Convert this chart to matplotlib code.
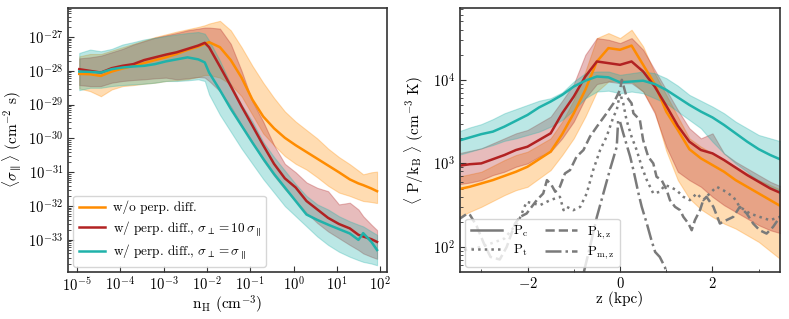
import numpy as np
import matplotlib
matplotlib.use("Agg")
import matplotlib.pyplot as plt
from matplotlib.ticker import MultipleLocator, NullLocator, LogLocator

plt.rcParams['mathtext.fontset'] = 'cm'
plt.rcParams['font.family'] = ['cmr10', 'DejaVu Serif']
plt.rcParams['axes.formatter.use_mathtext'] = True
plt.rcParams['axes.unicode_minus'] = True

# ---------------- left panel data (log10 values) ----------------
log_nH = [-4.95, -4.7, -4.45, -4.2, -3.95, -3.7, -3.45, -3.2, -2.95, -2.7, -2.45, -2.2, -2.05, -1.95,
          -1.7, -1.45, -1.2, -0.95, -0.7, -0.45, -0.2, 0.05, 0.3, 0.55, 0.8, 1.05, 1.3, 1.5, 1.61, 1.8, 1.93]

nodiff_mid = [-28.09, -28.1, -28.15, -28.02, -27.93, -27.85, -27.77, -27.68, -27.6, -27.5, -27.38, -27.28, -27.2, -27.15,
              -27.3, -27.68, -28.2, -28.85, -29.35, -29.7, -29.98, -30.2, -30.4, -30.6, -30.8, -31.0, -31.21, -31.33, -31.38, -31.48, -31.56]
nodiff_hi = [-27.57, -27.5, -27.5, -27.4, -27.3, -27.2, -27.1, -27.0, -26.92, -26.84, -26.77, -26.7, -26.65, -26.6,
             -26.52, -26.8, -27.3, -27.85, -28.35, -28.8, -29.2, -29.5, -29.75, -30.0, -30.3, -30.55, -30.76, -30.95, -31.06, -31.0, -30.98]
nodiff_lo = [-28.52, -28.6, -28.75, -28.55, -28.45, -28.42, -28.38, -28.35, -28.3, -28.28, -28.25, -28.18, -28.12, -28.12,
             -28.2, -28.4, -28.75, -29.3, -29.85, -30.2, -30.52, -30.75, -30.92, -31.15, -31.4, -31.6, -31.7, -31.8, -31.85, -31.88, -31.91]

perp10_mid = [-27.95, -28.0, -28.05, -27.92, -27.85, -27.8, -27.68, -27.6, -27.52, -27.45, -27.35, -27.25, -27.17, -27.3,
              -27.87, -28.45, -29.05, -29.62, -30.2, -30.75, -31.18, -31.45, -31.85, -32.1, -32.35, -32.53, -32.66, -32.85, -32.9, -32.98, -33.06]
perp10_hi = [-27.63, -27.6, -27.55, -27.45, -27.35, -27.22, -27.12, -27.02, -26.95, -26.88, -26.8, -26.75, -26.72, -26.72,
             -26.75, -27.2, -28.0, -28.9, -29.5, -30.2, -30.75, -31.0, -31.3, -31.46, -31.56, -31.95, -31.9, -32.1, -32.3, -32.55, -32.71]
perp10_lo = [-28.42, -28.45, -28.45, -28.35, -28.3, -28.27, -28.25, -28.22, -28.2, -28.25, -28.22, -28.18, -28.2, -28.3,
             -28.6, -29.05, -29.6, -30.1, -30.65, -31.1, -31.5, -31.85, -32.2, -32.5, -32.75, -32.95, -33.15, -33.3, -33.4, -33.5, -33.56]

perp1_mid = [-28.02, -28.03, -28.05, -27.95, -27.9, -27.87, -27.85, -27.8, -27.72, -27.66, -27.6, -27.66, -27.75, -28.05,
             -28.57, -29.12, -29.62, -30.12, -30.6, -31.05, -31.45, -31.85, -32.25, -32.41, -32.55, -32.68, -32.81, -33.0, -32.8, -33.06, -33.3]
perp1_hi = [-27.47, -27.37, -27.42, -27.35, -27.22, -27.15, -27.07, -27.02, -26.97, -26.92, -26.88, -26.85, -26.9, -27.1,
            -27.7, -28.4, -29.0, -29.5, -30.1, -30.55, -30.95, -31.35, -31.7, -31.95, -32.1, -32.3, -32.45, -32.55, -32.6, -32.75, -32.85]
perp1_lo = [-28.57, -28.5, -28.5, -28.45, -28.42, -28.4, -28.38, -28.35, -28.3, -28.3, -28.28, -28.25, -28.3, -28.7,
            -29.3, -29.8, -30.3, -30.75, -31.2, -31.6, -32.0, -32.3, -32.6, -32.9, -33.15, -33.35, -33.5, -33.6, -33.65, -33.7, -33.75]

# ---------------- right panel data (log10 P/kB) ----------------
z_kpc = [-3.5, -3.25, -3.0, -2.75, -2.5, -2.25, -2.0, -1.75, -1.5, -1.25, -1.0, -0.75, -0.5, -0.25, 0.0,
         0.25, 0.5, 0.75, 1.0, 1.25, 1.5, 1.75, 2.0, 2.25, 2.5, 2.75, 3.0, 3.25, 3.5]

pc_nodiff = [2.69, 2.72, 2.76, 2.8, 2.85, 2.9, 2.96, 3.05, 3.14, 3.35, 3.6, 3.88, 4.22, 4.38, 4.36,
             4.41, 4.18, 3.95, 3.62, 3.4, 3.17, 3.06, 2.98, 2.9, 2.8, 2.72, 2.64, 2.56, 2.48]
pc_nodiff_hi = [2.84, 2.87, 2.9, 2.97, 3.04, 3.1, 3.14, 3.22, 3.3, 3.5, 3.76, 4.1, 4.5, 4.56, 4.5,
                4.6, 4.4, 4.08, 3.82, 3.56, 3.3, 3.2, 3.12, 3.04, 2.96, 2.88, 2.8, 2.74, 2.68]
pc_nodiff_lo = [2.35, 2.42, 2.48, 2.55, 2.62, 2.68, 2.72, 2.82, 2.92, 3.1, 3.3, 3.56, 3.86, 3.98, 4.0,
                3.98, 3.86, 3.62, 3.15, 2.8, 2.58, 2.45, 2.36, 2.28, 2.22, 2.14, 2.06, 1.95, 1.84]

pc_perp10 = [2.97, 2.99, 3.0, 3.05, 3.1, 3.16, 3.2, 3.28, 3.36, 3.6, 3.8, 4.04, 4.22, 4.2, 4.18,
             4.22, 4.1, 3.92, 3.69, 3.45, 3.26, 3.16, 3.12, 3.04, 2.95, 2.86, 2.78, 2.7, 2.64]
pc_perp10_hi = [3.12, 3.15, 3.18, 3.24, 3.3, 3.36, 3.4, 3.48, 3.56, 3.75, 3.95, 4.3, 4.5, 4.48, 4.44,
                4.5, 4.36, 4.12, 3.88, 3.64, 3.42, 3.3, 3.36, 3.12, 3.02, 2.94, 2.86, 2.78, 2.72]
pc_perp10_lo = [2.75, 2.77, 2.8, 2.86, 2.9, 2.96, 3.0, 3.08, 3.14, 3.3, 3.5, 3.78, 3.95, 3.98, 3.96,
                3.96, 3.86, 3.6, 3.2, 2.9, 2.8, 2.72, 2.6, 2.5, 2.42, 2.34, 2.26, 2.2, 2.16]

pc_perp1 = [3.27, 3.31, 3.35, 3.38, 3.44, 3.51, 3.58, 3.67, 3.74, 3.82, 3.92, 3.99, 4.04, 4.03, 3.97,
            3.98, 3.99, 3.95, 3.88, 3.79, 3.7, 3.62, 3.55, 3.46, 3.36, 3.26, 3.17, 3.1, 3.04]
pc_perp1_hi = [3.38, 3.43, 3.47, 3.53, 3.6, 3.65, 3.7, 3.75, 3.78, 3.85, 3.98, 4.08, 4.1, 4.1, 4.06,
               4.08, 4.1, 4.08, 4.02, 3.93, 3.82, 3.75, 3.68, 3.6, 3.5, 3.42, 3.34, 3.3, 3.26]
pc_perp1_lo = [3.1, 3.14, 3.18, 3.22, 3.27, 3.3, 3.34, 3.38, 3.44, 3.52, 3.64, 3.78, 3.86, 3.87, 3.84,
               3.86, 3.84, 3.78, 3.72, 3.62, 3.52, 3.42, 3.26, 3.12, 3.0, 2.9, 2.78, 2.72, 2.66]

# gray component lines
z_kz = [-3.5, -3.46, -3.3, -3.24, -3.1, -2.95, -2.8, -2.6, -2.45, -2.27, -2.16, -2.02, -1.91, -1.8, -1.66,
        -1.58, -1.48, -1.4, -1.3, -1.19, -1.08, -0.94, -0.79, -0.65, -0.5, -0.29, -0.14, 0.0, 0.04, 0.14,
        0.25, 0.29, 0.43, 0.5, 0.61, 0.72, 0.79, 0.9, 1.01, 1.08, 1.19, 1.3, 1.37, 1.48, 1.55, 1.62, 1.73,
        1.8, 1.87, 2.02, 2.16, 2.3, 2.45, 2.59, 2.74, 2.88, 3.02, 3.17, 3.31, 3.46, 3.5]
p_kz = [2.33, 2.34, 2.4, 2.38, 2.25, 2.05, 1.88, 1.85, 2.0, 2.28, 2.36, 2.4, 2.48, 2.56, 2.64,
        2.8, 2.74, 2.66, 2.72, 2.88, 2.92, 3.08, 3.16, 3.32, 3.44, 3.6, 3.72, 3.88, 4.0, 3.8,
        3.72, 3.6, 3.52, 3.28, 3.08, 3.0, 2.84, 2.8, 2.68, 2.56, 2.48, 2.44, 2.36, 2.28, 2.2, 2.32, 2.44,
        2.56, 2.6, 2.48, 2.28, 2.32, 2.36, 2.48, 2.4, 2.28, 2.2, 2.16, 2.24, 2.36, 2.34]

z_t = [-3.5, -3.0, -2.5, -2.2, -2.02, -1.73, -1.51, -1.3, -1.22, -1.15, -1.01, -0.86, -0.72, -0.58, -0.43, -0.29,
       -0.14, -0.07, 0.0, 0.07, 0.14, 0.25, 0.36, 0.47, 0.58, 0.72, 0.86, 0.97, 1.08, 1.22, 1.37, 1.51, 1.66,
       1.8, 1.94, 2.09, 2.23, 2.45, 2.59, 2.81, 3.02, 3.24, 3.46, 3.5]
p_t = [1.95, 2.0, 2.1, 2.3, 2.54, 2.5, 2.56, 2.6, 2.44, 2.48, 2.44, 2.48, 2.64, 2.92, 3.16, 3.32,
       3.56, 3.64, 3.84, 3.72, 3.52, 3.32, 3.16, 2.96, 2.8, 2.64, 2.66, 2.74, 2.72, 2.68, 2.6, 2.56, 2.64,
       2.56, 2.64, 2.72, 2.68, 2.6, 2.48, 2.4, 2.36, 2.32, 2.36, 2.35]

z_mz = [-0.95, -0.79, -0.65, -0.5, -0.36, -0.22, -0.07, -0.04, 0.0, 0.07, 0.22, 0.29, 0.4, 0.47, 0.58,
        0.68, 0.76, 0.86, 0.97, 1.01, 1.1]
p_mz = [1.4, 1.68, 2.0, 2.36, 2.64, 2.92, 3.2, 3.52, 3.5, 3.36, 3.08, 2.92, 2.64, 2.48, 2.28,
        2.08, 1.94, 1.88, 1.76, 1.68, 1.5]

# ---------------- drawing ----------------
c_or = '#ff8c00'
c_rd = '#b22222'
c_tl = '#20b2aa'
spine_c = '#333333'

fig = plt.figure(figsize=(7.89, 3.19), dpi=100)
ax1 = fig.add_axes([68/789, 47/319, 319/789, 264/319])
ax2 = fig.add_axes([460/789, 47/319, 320/789, 264/319])

nH = 10.0 ** np.array(log_nH)
for mid, lo, hi, c, lab in [
        (nodiff_mid, nodiff_lo, nodiff_hi, c_or, 'w/o perp. diff.'),
        (perp10_mid, perp10_lo, perp10_hi, c_rd, r'w/ perp. diff., $\sigma_\perp = 10\,\sigma_\parallel$'),
        (perp1_mid, perp1_lo, perp1_hi, c_tl, r'w/ perp. diff., $\sigma_\perp = \sigma_\parallel$')]:
    ax1.fill_between(nH, 10.0 ** np.array(lo), 10.0 ** np.array(hi), color=c, alpha=0.3, lw=0.8)
    ax1.plot(nH, 10.0 ** np.array(mid), color=c, lw=1.8, label=lab)

ax1.set_xscale('log')
ax1.set_yscale('log')
ax1.set_xlim(10 ** -5.21, 10 ** 2.16)
ax1.set_ylim(10 ** -33.95, 10 ** -26.14)
ax1.set_xticks([1e-5, 1e-4, 1e-3, 1e-2, 1e-1, 1e0, 1e1, 1e2])
ax1.xaxis.set_minor_locator(NullLocator())
ax1.set_yticks([1e-33, 1e-32, 1e-31, 1e-30, 1e-29, 1e-28, 1e-27])
ax1.yaxis.set_minor_locator(LogLocator(base=10, subs=np.arange(2, 10), numticks=20))
ax1.set_xlabel(r'n$_\mathrm{H}$ (cm$^{-3}$)', fontsize=11, labelpad=0)
ax1.set_ylabel(r'$\langle\sigma_\parallel\rangle$ (cm$^{-2}$ s)', fontsize=11, labelpad=3)
ax1.legend(loc='lower left', fontsize=9.5, framealpha=0.8, handlelength=2.0, borderaxespad=0.4,
           labelspacing=0.35, handletextpad=0.6)

z = np.array(z_kpc)
for mid, lo, hi, c in [
        (pc_nodiff, pc_nodiff_lo, pc_nodiff_hi, c_or),
        (pc_perp10, pc_perp10_lo, pc_perp10_hi, c_rd),
        (pc_perp1, pc_perp1_lo, pc_perp1_hi, c_tl)]:
    ax2.fill_between(z, 10.0 ** np.array(lo), 10.0 ** np.array(hi), color=c, alpha=0.3, lw=0.8)
    ax2.plot(z, 10.0 ** np.array(mid), color=c, lw=1.8)

g = '#7a7a7a'
h_c, = ax2.plot([], [], color=g, lw=1.8, ls='-', label=r'P$_\mathrm{c}$')
h_t, = ax2.plot(z_t, 10.0 ** np.array(p_t), color=g, lw=1.8, ls=':', label=r'P$_\mathrm{t}$')
h_k, = ax2.plot(z_kz, 10.0 ** np.array(p_kz), color=g, lw=1.8, ls='--', label=r'P$_\mathrm{k,z}$')
h_m, = ax2.plot(z_mz, 10.0 ** np.array(p_mz), color=g, lw=1.8, ls='-.', label=r'P$_\mathrm{m,z}$')

ax2.set_yscale('log')
ax2.set_xlim(-3.46, 3.46)
ax2.set_ylim(10 ** 1.70, 10 ** 4.86)
ax2.xaxis.set_major_locator(MultipleLocator(2))
ax2.xaxis.set_minor_locator(MultipleLocator(1))
ax2.set_xlabel('z (kpc)', fontsize=11, labelpad=0)
ax2.set_ylabel(r'$\langle$ P/k$_\mathrm{B}$ $\rangle$ (cm$^{-3}$ K)', fontsize=11, labelpad=5)
ax2.legend(handles=[h_c, h_t, h_k, h_m], loc='lower left', ncol=2, fontsize=9.5,
           framealpha=0.8, handlelength=2.4, columnspacing=1.3, borderaxespad=0.4, labelspacing=0.3)

for ax in (ax1, ax2):
    for s in ax.spines.values():
        s.set_color(spine_c)
        s.set_linewidth(1.2)
    ax.tick_params(which='both', direction='in', colors=spine_c, labelcolor='black', labelsize=10.5)
    ax.tick_params(axis='x', pad=3)
    ax.tick_params(which='major', length=4)
    ax.tick_params(which='minor', length=2)

fig.savefig('out.png', dpi=100)
